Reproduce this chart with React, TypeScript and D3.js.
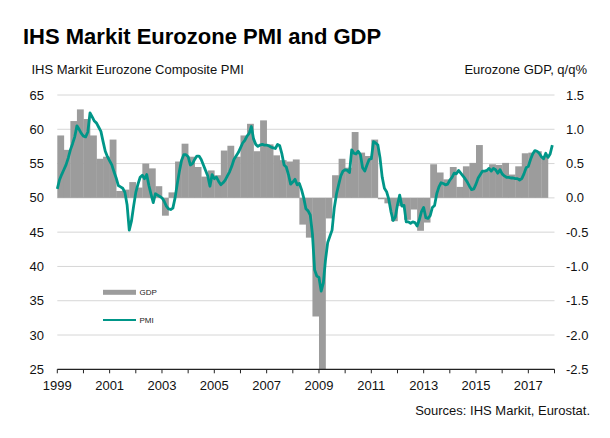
import React from "react";
import * as d3 from "d3";

// Eurozone composite PMI, monthly, Jan 1999 .. Dec 2017
const pmi = [
  51.3, 52.6, 53.4, 54.1, 54.8, 55.8, 57.0, 57.9, 58.9, 60.5, 60.0, 59.4, // 1999
  59.0, 58.9, 59.6, 62.4, 61.8, 61.2, 60.9, 60.3, 59.7, 58.2, 56.8, 56.0, // 2000
  55.4, 54.8, 53.8, 52.9, 51.8, 51.6, 51.4, 50.8, 49.0, 45.3, 46.6, 48.8, // 2001
  50.8, 52.0, 53.0, 53.3, 52.8, 53.4, 51.8, 50.5, 49.3, 50.6, 50.4, 50.2, // 2002
  50.0, 49.5, 48.8, 48.4, 48.3, 48.5, 50.0, 52.0, 53.9, 55.5, 56.3, 56.3, // 2003
  56.0, 54.8, 55.0, 55.6, 56.1, 56.1, 55.6, 54.8, 54.0, 53.2, 51.7, 53.4, // 2004
  52.8, 53.0, 52.4, 51.9, 52.2, 52.6, 53.2, 53.8, 54.6, 55.6, 56.1, 56.6, // 2005
  57.3, 58.0, 58.4, 59.0, 59.4, 60.4, 58.6, 57.8, 57.5, 57.7, 57.8, 57.7, // 2006
  57.7, 57.6, 57.4, 57.3, 57.2, 57.8, 57.6, 56.4, 54.8, 54.5, 53.4, 52.0, // 2007
  52.3, 52.7, 51.9, 52.1, 51.2, 50.0, 48.4, 48.1, 47.5, 44.7, 39.5, 38.6, // 2008
  38.4, 36.4, 37.6, 41.0, 43.5, 44.4, 45.3, 48.5, 50.5, 51.9, 53.2, 53.9, // 2009
  54.1, 54.0, 53.7, 57.0, 56.5, 56.4, 56.8, 56.3, 54.4, 53.9, 54.8, 55.6, // 2010
  55.7, 58.2, 58.0, 57.7, 55.8, 53.0, 51.4, 50.9, 49.8, 48.0, 46.7, 47.2, // 2011
  49.0, 50.4, 48.8, 48.9, 46.5, 46.5, 46.3, 46.5, 46.4, 45.9, 46.8, 48.0, // 2012
  48.6, 47.1, 47.0, 47.4, 48.6, 48.9, 50.6, 51.6, 52.2, 52.1, 51.9, 52.0, // 2013
  52.6, 53.0, 53.6, 53.5, 54.0, 53.6, 53.2, 52.8, 52.3, 51.7, 51.2, 51.3, // 2014
  52.0, 52.9, 53.4, 53.9, 53.9, 54.0, 54.3, 53.9, 54.3, 54.1, 53.6, 54.1, // 2015
  53.5, 53.2, 53.0, 53.0, 52.9, 52.9, 52.8, 52.8, 52.6, 52.8, 53.5, 54.4, // 2016
  54.6, 55.6, 56.4, 56.9, 56.8, 56.5, 56.0, 55.7, 56.5, 55.9, 56.4, 57.7, // 2017
];

// Eurozone GDP q/q %, 1999Q1 .. 2017Q3
const gdp = [
  0.91, 0.70, 1.12, 1.29, // 1999
  1.15, 0.91, 0.57, 0.60, // 2000
  0.85, 0.10, 0.12, 0.23, // 2001
  0.15, 0.50, 0.43, 0.17, // 2002
  -0.26, 0.08, 0.53, 0.79, // 2003
  0.60, 0.45, 0.31, 0.40, // 2004
  0.33, 0.69, 0.76, 0.60, // 2005
  0.91, 1.08, 0.68, 1.13, // 2006
  0.78, 0.62, 0.55, 0.53, // 2007
  0.56, -0.39, -0.58, -1.73, // 2008
  -2.9, -0.30, 0.33, 0.57, // 2009
  0.44, 0.96, 0.66, 0.61, // 2010
  0.85, -0.02, -0.08, -0.34, // 2011
  -0.12, -0.32, -0.17, -0.48, // 2012
  -0.36, 0.49, 0.37, 0.27, // 2013
  0.45, 0.16, 0.46, 0.51, // 2014
  0.77, 0.39, 0.49, 0.48, // 2015
  0.51, 0.34, 0.46, 0.65, // 2016
  0.66, 0.68, 0.60, // 2017
];

const startYear = 1999;
const endYear = 2018;
const pmiTicks = [25, 30, 35, 40, 45, 50, 55, 60, 65];
const gdpTicks = [-2.5, -2.0, -1.5, -1.0, -0.5, 0.0, 0.5, 1.0, 1.5];
const yearTicks = d3.range(startYear, endYear + 1);

const W = 610;
const H = 438;
const FONT = "'Liberation Sans', Arial, Helvetica, sans-serif";
const TEAL = "#009688";
const GREY = "#9c9c9c";

export default function App() {
  const x = d3.scaleLinear().domain([startYear, endYear]).range([57.3, 554.5]);
  const yL = d3.scaleLinear().domain([25, 65]).range([369.3, 95]);
  const yR = d3.scaleLinear().domain([-2.5, 1.5]).range([369.3, 95]);

  const qw = 0.25;
  const bars = gdp.map((v, i) => {
    const t0 = startYear + i * qw;
    const vv = Math.max(v, -2.5);
    return {
      x: x(t0),
      w: x(t0 + qw) - x(t0),
      y: yR(Math.max(vv, 0)),
      h: Math.abs(yR(vv) - yR(0)),
    };
  });

  const line = d3
    .line<number>()
    .x((_, i) => x(startYear + i / 12))
    .y((d) => yL(d));

  return (
    <div style={{ position: "absolute", left: 0, top: 0 }}>
      <svg width={W} height={H} style={{ display: "block", background: "#fff" }} fontFamily={FONT}>
        <text x={23} y={44} fontSize={22} fontWeight="bold" fill="#000">
          IHS Markit Eurozone PMI and GDP
        </text>
        <text x={31.5} y={74} fontSize={13} fill="#111">
          IHS Markit Eurozone Composite PMI
        </text>
        <text x={587} y={74} fontSize={13} fill="#111" textAnchor="end">
          Eurozone GDP, q/q%
        </text>

        {/* gridlines */}
        {pmiTicks.filter((t) => t > 25).map((t) => (
          <line key={t} x1={x(startYear)} x2={x(endYear)} y1={yL(t)} y2={yL(t)} stroke="#d6d6d6" strokeWidth={1} />
        ))}

        {/* GDP bars */}
        {bars.map((b, i) => (
          <rect key={i} x={b.x} y={b.y} width={b.w + 0.3} height={b.h} fill={GREY} />
        ))}

        {/* PMI line */}
        <path d={line(pmi) || ""} fill="none" stroke={TEAL} strokeWidth={2.8} strokeLinejoin="round" />

        {/* x axis */}
        <line x1={x(startYear)} x2={x(endYear)} y1={yL(25)} y2={yL(25)} stroke="#222" strokeWidth={1.2} />
        {yearTicks.map((t) => (
          <line key={t} x1={x(t)} x2={x(t)} y1={yL(25)} y2={yL(25) + 4} stroke="#222" strokeWidth={1} />
        ))}
        {yearTicks.filter((t) => (t - startYear) % 2 === 0 && t < endYear).map((t) => (
          <text key={t} x={x(t)} y={390} fontSize={13} textAnchor="middle" fill="#111">
            {t}
          </text>
        ))}

        {/* left axis labels */}
        {pmiTicks.map((t) => (
          <text key={t} x={44} y={yL(t)} dy="0.35em" fontSize={13} textAnchor="end" fill="#111">
            {t}
          </text>
        ))}

        {/* right axis labels */}
        {gdpTicks.map((t) => (
          <text key={t} x={566} y={yR(t)} dy="0.35em" fontSize={13} textAnchor="start" fill="#111">
            {t.toFixed(1)}
          </text>
        ))}

        {/* legend */}
        <rect x={103} y={289.8} width={33} height={5} fill={GREY} />
        <text x={139.5} y={295} fontSize={8} fill="#222">GDP</text>
        <line x1={103} x2={136} y1={320} y2={320} stroke={TEAL} strokeWidth={2} />
        <text x={139.5} y={323} fontSize={8} fill="#222">PMI</text>

        <text x={590} y={415} fontSize={13} textAnchor="end" fill="#111">
          Sources: IHS Markit, Eurostat.
        </text>
      </svg>
    </div>
  );
}
